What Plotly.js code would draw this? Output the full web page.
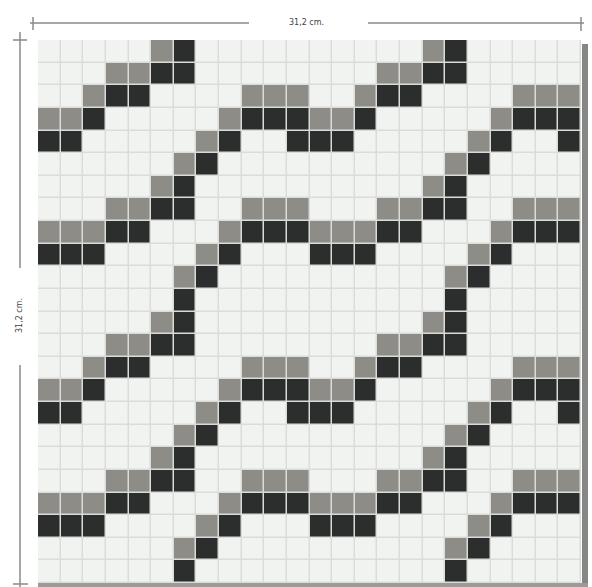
<!DOCTYPE html>
<html>
<head>
<meta charset="utf-8">
<script src="https://cdn.plot.ly/plotly-3.0.1.min.js"></script>
<style>html,body{margin:0;padding:0;background:#fff;}#chart{width:592px;height:587px;}</style>
</head>
<body>
<div id="chart"></div>
<script>
// Mosaic rows, top to bottom: '.' = white tile, 'g' = grey tile, 'd' = dark tile
const mosaicRows = [
  ".....gd..........gd.....",
  "...ggdd........ggdd.....",
  "..gdd....ggg..gdd....ggg",
  "ggd.....gdddggd.....gddd",
  "dd.....gd..ddd.....gd..d",
  "......gd..........gd....",
  ".....gd..........gd.....",
  "...ggdd..ggg...ggdd..ggg",
  "gggdd...gdddgggdd...gddd",
  "ddd....gd...ddd....gd...",
  "......gd..........gd....",
  "......d...........d.....",
  ".....gd..........gd.....",
  "...ggdd........ggdd.....",
  "..gdd....ggg..gdd....ggg",
  "ggd.....gdddggd.....gddd",
  "dd.....gd..ddd.....gd..d",
  "......gd..........gd....",
  ".....gd..........gd.....",
  "...ggdd..ggg...ggdd..ggg",
  "gggdd...gdddgggdd...gddd",
  "ddd....gd...ddd....gd...",
  "......gd..........gd....",
  "......d...........d....."
];
const tileCodes = {".": 0, "g": 1, "d": 2};
const tileNames = ["white", "grey", "black"];
const dimensionLabel = "31,2 cm.";

const z = mosaicRows.map(r => r.split("").map(c => tileCodes[c]));
const text = mosaicRows.map(r => r.split("").map(c => tileNames[tileCodes[c]]));
const cols = mosaicRows[0].length;
const rows = mosaicRows.length;
const xs = Array.from({length: cols}, (_, i) => i);
const ys = Array.from({length: rows}, (_, i) => i);

const white = "#f1f3f1", grey = "#8d8c86", dark = "#2c2d2d";

const trace = {
  type: "heatmap",
  x: xs, y: ys, z: z, text: text,
  zmin: 0, zmax: 2,
  colorscale: [[0, white], [0.333, white], [0.334, grey], [0.666, grey], [0.667, dark], [1, dark]],
  showscale: false,
  xgap: 1.5, ygap: 1.5,
  hoverinfo: "text"
};

const lineCol = "#8a8a8a";
const W = 592, H = 587, L = 38, R = 11, T = 40, B = 4;
const pw = W - L - R, ph = H - T - B;
const px = v => (v - L) / pw;          // pixel x -> paper x
const py = v => 1 - (v - T) / ph;      // pixel y -> paper y

const shapes = [
  // top dimension line
  {type: "line", xref: "paper", yref: "paper", x0: px(30), x1: px(249), y0: py(23), y1: py(23), line: {color: lineCol, width: 1.5}},
  {type: "line", xref: "paper", yref: "paper", x0: px(368), x1: px(584), y0: py(23), y1: py(23), line: {color: lineCol, width: 1.5}},
  {type: "line", xref: "paper", yref: "paper", x0: px(33), x1: px(33), y0: py(17), y1: py(30), line: {color: lineCol, width: 1.5}},
  {type: "line", xref: "paper", yref: "paper", x0: px(581), x1: px(581), y0: py(17), y1: py(31), line: {color: lineCol, width: 1.5}},
  // left dimension line
  {type: "line", xref: "paper", yref: "paper", x0: px(20), x1: px(20), y0: py(32), y1: py(268), line: {color: lineCol, width: 1.5}},
  {type: "line", xref: "paper", yref: "paper", x0: px(20), x1: px(20), y0: py(365), y1: py(587), line: {color: lineCol, width: 1.5}},
  {type: "line", xref: "paper", yref: "paper", x0: px(13), x1: px(27), y0: py(40), y1: py(40), line: {color: lineCol, width: 1.5}},
  {type: "line", xref: "paper", yref: "paper", x0: px(13), x1: px(28), y0: py(584), y1: py(584), line: {color: lineCol, width: 1.5}},
  // right edge shadow and bottom edge
  {type: "rect", xref: "paper", yref: "paper", x0: px(582), x1: px(588), y0: py(44), y1: py(587), line: {width: 0}, fillcolor: "#858785"},
  {type: "rect", xref: "paper", yref: "paper", x0: px(38), x1: px(588), y0: py(583), y1: py(587), line: {width: 0}, fillcolor: "#9a9c9a"}
];

const annotations = [
  {xref: "paper", yref: "paper", x: px(306), y: py(23), text: dimensionLabel, showarrow: false,
   font: {family: "DejaVu Sans", size: 8, color: "#444"}, xanchor: "center", yanchor: "middle"},
  {xref: "paper", yref: "paper", x: px(19), y: py(316), text: dimensionLabel, showarrow: false, textangle: -90,
   font: {family: "DejaVu Sans", size: 8, color: "#444"}, xanchor: "center", yanchor: "middle"}
];

const layout = {
  width: W, height: H,
  margin: {l: L, r: R, t: T, b: B, pad: 0},
  paper_bgcolor: "#ffffff",
  plot_bgcolor: "#d9dcd9",
  xaxis: {range: [-0.5, cols - 0.5], visible: false, fixedrange: true},
  yaxis: {range: [rows - 0.5, -0.5], visible: false, fixedrange: true},
  shapes: shapes,
  annotations: annotations,
  showlegend: false
};

Plotly.newPlot("chart", [trace], layout, {displayModeBar: false, staticPlot: true});
</script>
</body>
</html>
